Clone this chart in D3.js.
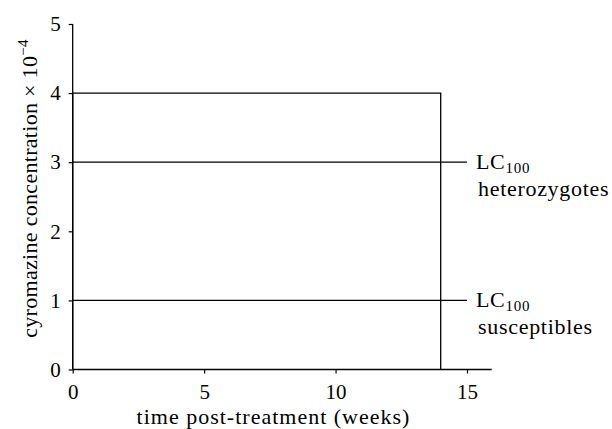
<!DOCTYPE html>
<html><head><meta charset="utf-8">
<script src="https://cdn.jsdelivr.net/npm/d3@7"></script>
<style>body{margin:0;background:#fff}svg{display:block}text{font-family:"Liberation Serif","Times New Roman",serif;fill:#000}</style>
</head><body><svg id="c" width="612" height="429"></svg>
<script>
const treatmentX = [0, 0, 14, 14];
const treatmentY = [0, 4, 4, 0];
const lcLevels = [3, 1];
const lcLabels = ["heterozygotes", "susceptibles"];
const lcEndX = 15;
const xTicks = [0, 5, 10, 15];
const yTicks = [0, 1, 2, 3, 4, 5];

const svg = d3.select("#c");
const x = d3.scaleLinear().domain([0, 15.94]).range([72.7, 491.7]);
const y = d3.scaleLinear().domain([0, 5]).range([369.5, 24]);

const fs = 21;
const xAxis = svg.append("g").attr("transform", `translate(0,${y(0)})`)
  .call(d3.axisBottom(x).tickValues(xTicks).tickSize(4).tickPadding(11).tickFormat(d3.format("d")));
const yAxis = svg.append("g").attr("transform", `translate(${x(0)},0)`)
  .call(d3.axisLeft(y).tickValues(yTicks).tickSize(4).tickPadding(8).tickFormat(d3.format("d")));
[xAxis, yAxis].forEach(a => {
  a.select(".domain").attr("stroke", "#000").attr("stroke-width", 1.3);
  a.selectAll(".tick line").attr("stroke", "#000").attr("stroke-width", 1.2);
  a.selectAll(".tick text").style("font-size", fs + "px").style("font-family", "Liberation Serif");
});
xAxis.selectAll(".domain").attr("d", `M${x(0)},0H${x(15.94)}`);
yAxis.selectAll(".domain").attr("d", `M0,${y(0)}V${y(5)}`);

// LC lines
lcLevels.forEach((v, i) => {
  svg.append("line").attr("x1", x(0)).attr("x2", x(lcEndX)).attr("y1", y(v)).attr("y2", y(v))
    .attr("stroke", "#000").attr("stroke-width", 1.3);
  const t = svg.append("text").attr("x", x(lcEndX) + 9).attr("y", y(v) + 7)
    .style("font-size", "22px").style("letter-spacing", "0.7px");
  t.append("tspan").text("LC");
  t.append("tspan").attr("dy", 4).style("font-size", "15px").text("100");
  svg.append("text").attr("x", x(lcEndX) + 11).attr("y", y(v) + 34)
    .style("font-size", "22px").style("letter-spacing", "0.7px").text(lcLabels[i]);
});

// treatment step line
const pts = treatmentX.map((d, i) => [x(d), y(treatmentY[i])]);
svg.append("path").attr("d", d3.line()(pts)).attr("fill", "none").attr("stroke", "#000").attr("stroke-width", 1.3);

// axis titles
svg.append("text").attr("x", 273.5).attr("y", 424).attr("text-anchor", "middle")
  .style("font-size", "22px").style("letter-spacing", "1px").text("time post-treatment (weeks)");
const yl = svg.append("text").attr("transform", `translate(37,188.5) rotate(-90)`).attr("text-anchor", "middle")
  .style("font-size", "22px").style("letter-spacing", "0.3px");
yl.append("tspan").text("cyromazine concentration × 10");
yl.append("tspan").attr("dy", -9).style("font-size", "15px").text("−4");
</script></body></html>
